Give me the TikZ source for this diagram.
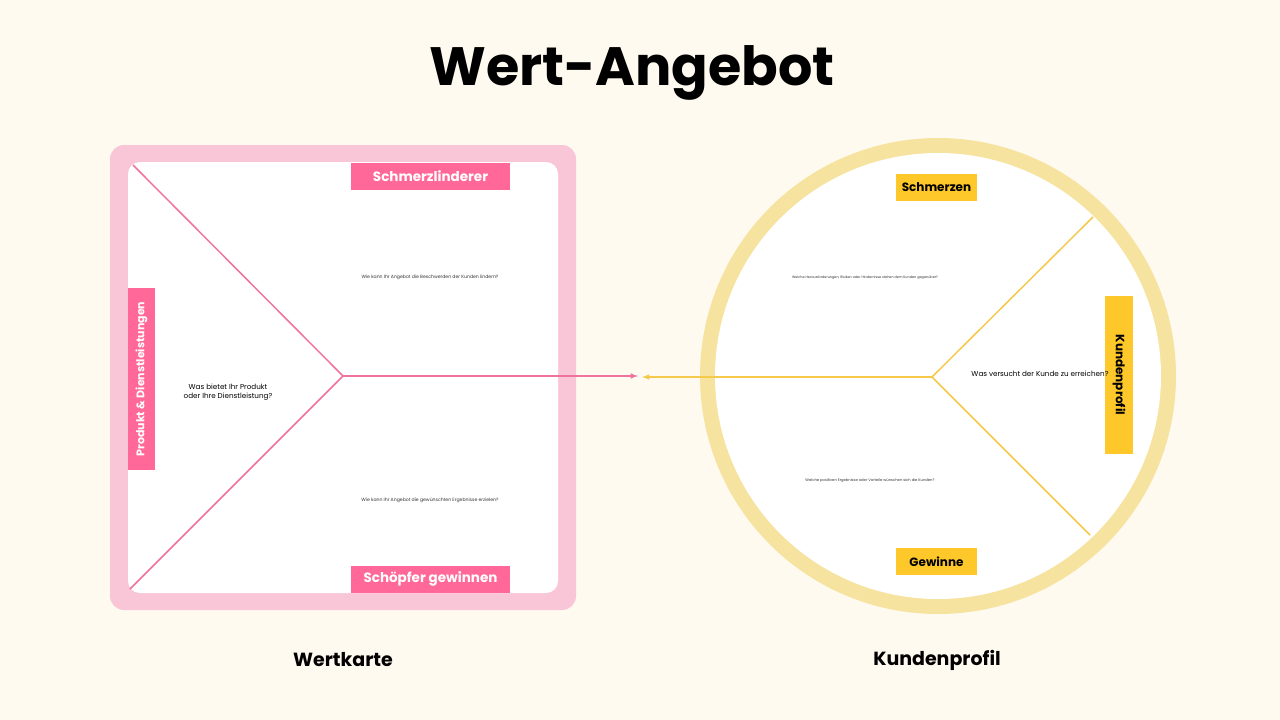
\documentclass[tikz,border=0pt]{standalone}
\usepackage{fontspec}
\setmainfont{Poppins}
\definecolor{bg}{HTML}{FFFAEF}
\definecolor{pinkframe}{HTML}{F9C6D8}
\definecolor{pinkline}{HTML}{F0729E}
\definecolor{pinklabel}{HTML}{FF6898}
\definecolor{ring}{HTML}{F7E3A0}
\definecolor{yline}{HTML}{F5C94A}
\definecolor{ylabel}{HTML}{FFC82A}
\begin{document}
\begin{tikzpicture}[x=1pt,y=-1pt,
		pinktag/.style={fill=pinklabel,text=white,font=\bfseries\fontsize{13.5}{16}\selectfont,minimum width=159pt,minimum height=27pt,inner sep=0pt},
		yellowtag/.style={fill=ylabel,text=black,font=\bfseries\fontsize{12}{14}\selectfont,minimum width=81pt,minimum height=27pt,inner sep=0pt},
		tiny/.style={font=\fontsize{4.6}{6}\selectfont,text=black!80},
		mid/.style={font=\fontsize{7.2}{9.5}\selectfont,align=center},
		caption/.style={font=\bfseries\fontsize{19}{24}\selectfont}]
		\fill [bg] (0,0) rectangle (1280,720);
		\node [font=\bfseries\fontsize{54}{64}\selectfont] (title) at (632,73) {Wert-Angebot};
		% Wertkarte
		\fill [pinkframe,rounded corners=14pt] (110,145) rectangle (576,610);
		\fill [white,rounded corners=12pt] (128,162) rectangle (558,593);
		\coordinate (hub) at (343,376);
		\coordinate (tl) at (133,165);
		\coordinate (bl) at (130,589);
		\coordinate (pend) at (638,376);
		\draw [pinkline,line width=1.5pt] (tl) -- (hub) -- (bl);
		\draw [pinkline,line width=1.5pt,-latex] (hub) -- (pend);
		\node [pinktag] (relief) at (430.5,176.5) {Schmerzlinderer};
		\node [pinktag] (gain) at (430.5,579) {Schöpfer gewinnen};
		\node [pinktag,rotate=90,minimum width=182pt,font=\bfseries\fontsize{11}{13}\selectfont] (product) at (141.5,379) {Produkt \& Dienstleistungen};
		\node [mid] (q1) at (228,392) {Was bietet Ihr Produkt\\oder Ihre Dienstleistung?};
		\node [tiny] (q2) at (430,277) {Wie kann Ihr Angebot die Beschwerden der Kunden lindern?};
		\node [tiny] (q3) at (430,500) {Wie kann Ihr Angebot die gewünschten Ergebnisse erzielen?};
		\node [caption] (map) at (343,660) {Wertkarte};
		% Kundenprofil
		\fill [ring] (938,376) circle (238);
		\fill [white] (938,376) circle (223);
		\coordinate (chub) at (932,377);
		\coordinate (ctr) at (1093,217);
		\coordinate (cbr) at (1090,535);
		\coordinate (cend) at (642,377);
		\draw [yline,line width=1.5pt] (ctr) -- (chub) -- (cbr);
		\draw [yline,line width=1.5pt,-latex] (chub) -- (cend);
		\node [yellowtag] (pains) at (936.5,187.5) {Schmerzen};
		\node [yellowtag] (gains) at (936.5,561.5) {Gewinne};
		\node [yellowtag,rotate=-90,minimum width=158pt,minimum height=28pt] (profile) at (1119,375) {Kundenprofil};
		\node [mid] (q4) at (1040,374) {Was versucht der Kunde zu erreichen?};
		\node [tiny,font=\fontsize{3.4}{4}\selectfont] (q5) at (865,278) {Welche Herausforderungen, Risiken oder Hindernisse stehen dem Kunden gegenüber?};
		\node [tiny,font=\fontsize{3.7}{5}\selectfont] (q6) at (870,481) {Welche positiven Ergebnisse oder Vorteile wünschen sich die Kunden?};
		\node [caption] (cust) at (937,660) {Kundenprofil};
\end{tikzpicture}
\end{document}
